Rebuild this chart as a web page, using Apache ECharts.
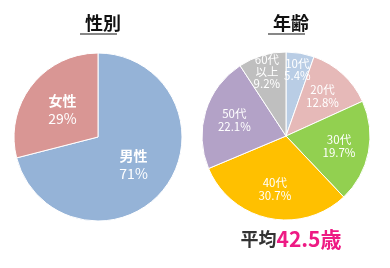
<!DOCTYPE html>
<html>
<head>
<meta charset="utf-8">
<script src="https://cdn.jsdelivr.net/npm/echarts@6/dist/echarts.min.js"></script>
<style>
  html, body { margin: 0; padding: 0; background: #fff; }
  #main { width: 390px; height: 268px; }
</style>
</head>
<body>
<div id="main"></div>
<script>
// 性別
const genderNames = ['男性', '女性'];
const genderValues = [71, 29];
const genderColors = ['#95b3d7', '#d99694'];

// 年齢
const ageNames = ['10代', '20代', '30代', '40代', '50代', '60代\n以上'];
const ageValues = [5.4, 12.8, 19.7, 30.7, 22.1, 9.2];
const ageColors = ['#b9cde5', '#e6b9b8', '#92d050', '#ffc000', '#b3a2c7', '#bfbfbf'];
// small slices get their label pushed further out
const ageOuterLabel = ['10代', '60代\n以上'];

const averageAge = '42.5歳';

const font = '"Noto Sans CJK JP", "Noto Sans", sans-serif';

const chart = echarts.init(document.getElementById('main'), null, { renderer: 'canvas' });

function pieData(names, values, colors) {
  return names.map(function (n, i) {
    return { name: n, value: values[i], itemStyle: { color: colors[i] } };
  });
}

function labelData(names, values, keep) {
  return names.map(function (n, i) {
    return {
      name: n,
      value: values[i],
      label: { show: keep(n) }
    };
  });
}

const clearItem = { color: 'rgba(0,0,0,0)', borderWidth: 0 };

const option = {
  animation: false,
  title: [
    {
      text: '性別', left: 98, top: 9, textAlign: 'center',
      textStyle: { fontFamily: font, fontSize: 18, fontWeight: 'bold', color: '#111' }
    },
    {
      text: '年齢', left: 286, top: 9, textAlign: 'center',
      textStyle: { fontFamily: font, fontSize: 18, fontWeight: 'bold', color: '#111' }
    },
    {
      text: '{a|平均}{b|' + averageAge + '}', left: 286, top: 224, textAlign: 'center',
      textStyle: {
        fontFamily: font,
        rich: {
          a: { fontFamily: font, fontSize: 18, fontWeight: 'bold', color: '#333' },
          b: { fontFamily: font, fontSize: 21, fontWeight: 'bold', color: '#ee1a84' }
        }
      }
    }
  ],
  graphic: [
    { type: 'line', shape: { x1: 80, y1: 34, x2: 117, y2: 34 }, style: { stroke: '#111', lineWidth: 1.2 } },
    { type: 'line', shape: { x1: 268, y1: 34, x2: 305, y2: 34 }, style: { stroke: '#111', lineWidth: 1.2 } }
  ],
  series: [
    {
      type: 'pie',
      center: [98, 137],
      radius: [0, 84],
      startAngle: 90,
      clockwise: true,
      silent: true,
      itemStyle: { borderColor: '#fff', borderWidth: 1 },
      label: {
        show: true,
        position: 'inside',
        formatter: '{n|{b}}\n{p|{c}%}',
        rich: {
          n: { fontFamily: font, fontSize: 14, fontWeight: 'bold', color: '#fff', lineHeight: 18 },
          p: { fontFamily: font, fontSize: 14, color: '#fff', lineHeight: 18 }
        }
      },
      labelLine: { show: false },
      data: pieData(genderNames, genderValues, genderColors)
    },
    {
      type: 'pie',
      center: [286, 136],
      radius: [0, 84],
      startAngle: 90,
      clockwise: true,
      silent: true,
      itemStyle: { borderColor: '#fff', borderWidth: 1 },
      label: { show: false },
      labelLine: { show: false },
      data: pieData(ageNames, ageValues, ageColors)
    },
    {
      // labels for the wide slices
      type: 'pie',
      center: [286, 136],
      radius: [18, 84],
      startAngle: 90,
      silent: true,
      itemStyle: clearItem,
      label: {
        position: 'inside',
        formatter: '{b}\n{c}%',
        fontFamily: font, fontSize: 11.5, color: '#fff', lineHeight: 13
      },
      labelLine: { show: false },
      data: labelData(ageNames, ageValues, function (n) { return ageOuterLabel.indexOf(n) < 0; })
    },
    {
      // labels for the narrow slices
      type: 'pie',
      center: [286, 136],
      radius: [44, 84],
      startAngle: 90,
      silent: true,
      itemStyle: clearItem,
      label: {
        position: 'inside',
        formatter: '{b}\n{c}%',
        fontFamily: font, fontSize: 11.5, color: '#fff', lineHeight: 12
      },
      labelLine: { show: false },
      data: labelData(ageNames, ageValues, function (n) { return ageOuterLabel.indexOf(n) >= 0; })
    }
  ]
};

chart.setOption(option);
</script>
</body>
</html>
